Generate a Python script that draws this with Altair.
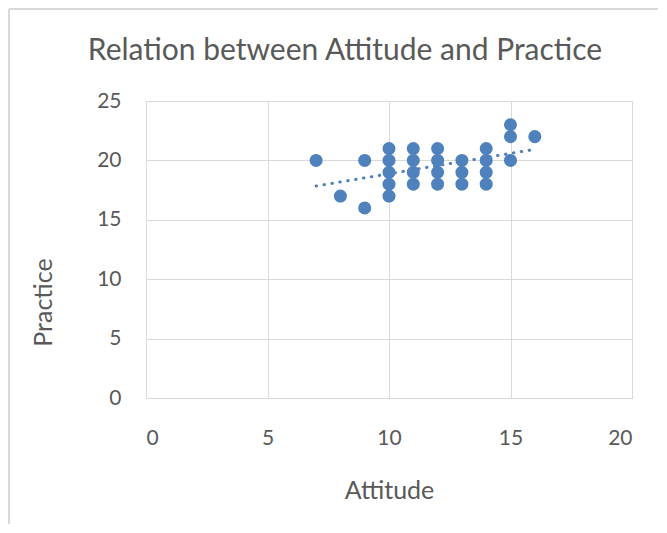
import altair as alt
import pandas as pd

# Data
attitude = [7, 8, 9, 9, 10, 10, 10, 10, 10, 11, 11, 11, 11, 12, 12, 12, 12,
            13, 13, 13, 14, 14, 14, 14, 15, 15, 15, 16]
practice = [20, 17, 20, 16, 21, 20, 19, 18, 17, 21, 20, 19, 18, 21, 20, 19, 18,
            20, 19, 18, 21, 20, 19, 18, 23, 22, 20, 22]
x_ticks = [0, 5, 10, 15, 20]
y_ticks = [0, 5, 10, 15, 20, 25]
chart_title = "Relation between Attitude and Practice"

df = pd.DataFrame({"Attitude": attitude, "Practice": practice})
one = pd.DataFrame({"title": [chart_title]})

FONT = "Lato"
TXT = "#595959"
GRID = "#d9d9d9"
BLUE = "#4F81BD"

x_enc = alt.X("Attitude:Q",
              scale=alt.Scale(domain=[0, 20], nice=False, zero=True),
              axis=alt.Axis(values=x_ticks, title="Attitude", grid=True,
                            gridColor=GRID, domainColor=GRID, ticks=False,
                            labelPadding=29, labelFont=FONT, labelFontSize=21,
                            labelColor=TXT, titleFont=FONT, titleFontSize=25,
                            titleFontWeight="normal", titleColor=TXT,
                            titlePadding=30))
y_enc = alt.Y("Practice:Q",
              scale=alt.Scale(domain=[0, 25], nice=False),
              axis=alt.Axis(values=y_ticks, title="Practice", grid=True,
                            gridColor=GRID, domainColor=GRID, ticks=False,
                            labelPadding=25, labelFont=FONT, labelFontSize=21,
                            labelColor=TXT, titleFont=FONT, titleFontSize=25,
                            titleFontWeight="normal", titleColor=TXT,
                            titleX=-90, titleY=201, titleAngle=270,
                            titleAlign="center", titleBaseline="bottom"))

points = alt.Chart(df).mark_circle(size=170, color=BLUE, opacity=1).encode(
    x=x_enc, y=y_enc)

trend = alt.Chart(df).transform_regression(
    "Attitude", "Practice", method="linear"
).mark_line(color=BLUE, strokeWidth=3, strokeDash=[0.5, 7.5],
            strokeCap="round").encode(x="Attitude:Q", y="Practice:Q")

frame_top = alt.Chart(one).mark_rule(color=GRID, strokeWidth=2).encode(
    x=alt.value(-137), x2=alt.value(540), y=alt.value(-92))
frame_left = alt.Chart(one).mark_rule(color=GRID, strokeWidth=2).encode(
    x=alt.value(-137), y=alt.value(-92), y2=alt.value(440))

title = alt.Chart(one).mark_text(
    font=FONT, fontSize=30, fontWeight="normal", color=TXT,
    align="center", baseline="middle"
).encode(x=alt.value(199), y=alt.value(-50), text="title:N")

chart = alt.layer(frame_top, frame_left, trend, points, title).properties(
    width=486, height=297,
    autosize=alt.AutoSizeParams(type="none"),
    padding={"left": 138, "top": 93, "right": 26, "bottom": 126},
).configure_view(stroke=None).configure(background="white")

chart.save("out.html", embed_options={"renderer": "svg", "actions": False})
